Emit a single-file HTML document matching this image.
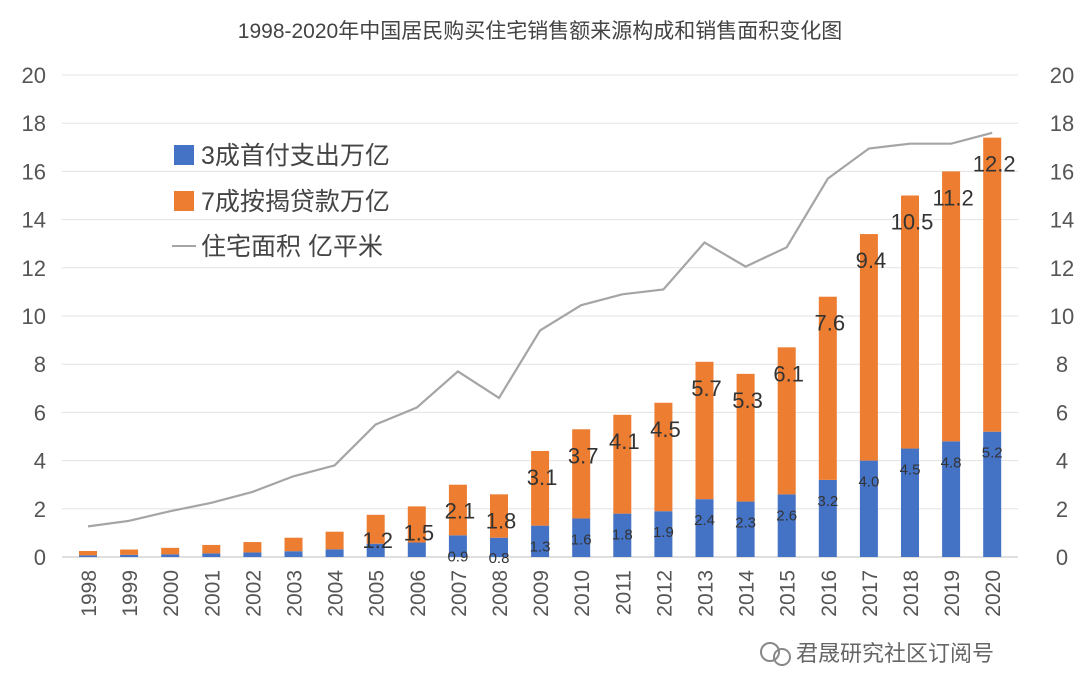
<!DOCTYPE html>
<html><head><meta charset="utf-8"><style>
body{margin:0;background:#fff;}
svg{display:block;font-family:"Liberation Sans","Noto Sans CJK SC",sans-serif;}
</style></head><body>
<svg id="c" width="1080" height="699">
<text x="540" y="38" text-anchor="middle" font-size="21" fill="#444">1998-2020年中国居民购买住宅销售额来源构成和销售面积变化图</text>
<g id="grid"></g><g id="bars"></g><g id="line"></g><g id="labels"></g><g id="axes"></g>
<g>
<rect x="174" y="145" width="20" height="20" fill="#4472c4"/>
<text x="201" y="164" font-size="25" fill="#444">3成首付支出万亿</text>
<rect x="174" y="191" width="20" height="20" fill="#ed7d31"/>
<text x="201" y="210" font-size="25" fill="#444">7成按揭贷款万亿</text>
<line x1="172" y1="246" x2="196" y2="246" stroke="#a5a5a5" stroke-width="2"/>
<text x="201" y="255" font-size="25" fill="#444">住宅面积 亿平米</text>
</g>
<g>
<circle cx="770" cy="652" r="9" fill="none" stroke="#888" stroke-width="2"/>
<circle cx="782" cy="657" r="8" fill="none" stroke="#888" stroke-width="2"/>
<text x="796" y="661" font-size="22" fill="#666">君晟研究社区订阅号</text>
</g>
</svg>
<script>
const years=["1998","1999","2000","2001","2002","2003","2004","2005","2006","2007","2008","2009","2010","2011","2012","2013","2014","2015","2016","2017","2018","2019","2020"];
const downPayment=[0.07,0.09,0.11,0.15,0.19,0.24,0.32,0.55,0.6,0.9,0.8,1.3,1.6,1.8,1.9,2.4,2.3,2.6,3.2,4.0,4.5,4.8,5.2];
const loan=[0.18,0.22,0.27,0.35,0.43,0.56,0.73,1.2,1.5,2.1,1.8,3.1,3.7,4.1,4.5,5.7,5.3,6.1,7.6,9.4,10.5,11.2,12.2];
const area=[1.27,1.5,1.9,2.25,2.7,3.35,3.8,5.5,6.2,7.7,6.6,9.4,10.45,10.9,11.1,13.05,12.05,12.85,15.7,16.95,17.15,17.15,17.6];
const yTicks=[0,2,4,6,8,10,12,14,16,18,20];
const downLabels=["","","","","","","","","","0.9","0.8","1.3","1.6","1.8","1.9","2.4","2.3","2.6","3.2","4.0","4.5","4.8","5.2"];
const loanLabels=["","","","","","","","1.2","1.5","2.1","1.8","3.1","3.7","4.1","4.5","5.7","5.3","6.1","7.6","9.4","10.5","11.2","12.2"];
const NS="http://www.w3.org/2000/svg";
const X0=88,DX=41.1,Y0=557,YT=75;
const x=i=>X0+i*DX;
const y=v=>Y0-(Y0-YT)*v/20;
function mk(t,a,p){const e=document.createElementNS(NS,t);for(const k in a)e.setAttribute(k,a[k]);p.appendChild(e);return e;}
const grid=document.getElementById('grid'),axes=document.getElementById('axes'),bars=document.getElementById('bars'),labels=document.getElementById('labels'),lineG=document.getElementById('line');
yTicks.forEach(t=>{
 const g=mk('line',{x1:62,x2:1018,y1:y(t),y2:y(t),stroke:t===0?'#bfbfbf':'#e3e3e3','stroke-width':1},grid);
 
 
 const l=mk('text',{x:46,y:y(t)+8,'text-anchor':'end','font-size':22,fill:'#555'},axes);l.textContent=t;
 
 
 const r=mk('text',{x:1062,y:y(t)+8,'text-anchor':'middle','font-size':22,fill:'#555'},axes);r.textContent=t;
 
 
});
const BW=18;
years.forEach((yr,i)=>{
 const cx=x(i);
 const b=mk('rect',{x:cx-BW/2,y:y(downPayment[i]),width:BW,height:Y0-y(downPayment[i]),fill:'#4472c4'},bars);
 
 
 const o=mk('rect',{x:cx-BW/2,y:y(downPayment[i]+loan[i]),width:BW,height:y(downPayment[i])-y(downPayment[i]+loan[i]),fill:'#ed7d31'},bars);
 
 
 const xl=mk('text',{transform:`translate(${cx+8},${570}) rotate(-90)`,'text-anchor':'end','font-size':21,fill:'#555'},axes);xl.textContent=yr;
 
 
 if(loanLabels[i]){
  const t=mk('text',{x:cx+2,y:Math.min(y(downPayment[i]+loan[i])+34,548),'text-anchor':'middle','font-size':22,fill:'#333'},labels);t.textContent=loanLabels[i];
  
  
 }
 if(downLabels[i]){
  const t=mk('text',{x:cx,y:Math.min(y(downPayment[i])+26,563),'text-anchor':'middle','font-size':15,fill:'#333'},labels);t.textContent=downLabels[i];
  
  
 }
});
const pl=mk('polyline',{points:area.map((v,i)=>x(i)+','+y(v)).join(' '),fill:'none',stroke:'#a5a5a5','stroke-width':2.2},lineG);


</script>
</body></html>
